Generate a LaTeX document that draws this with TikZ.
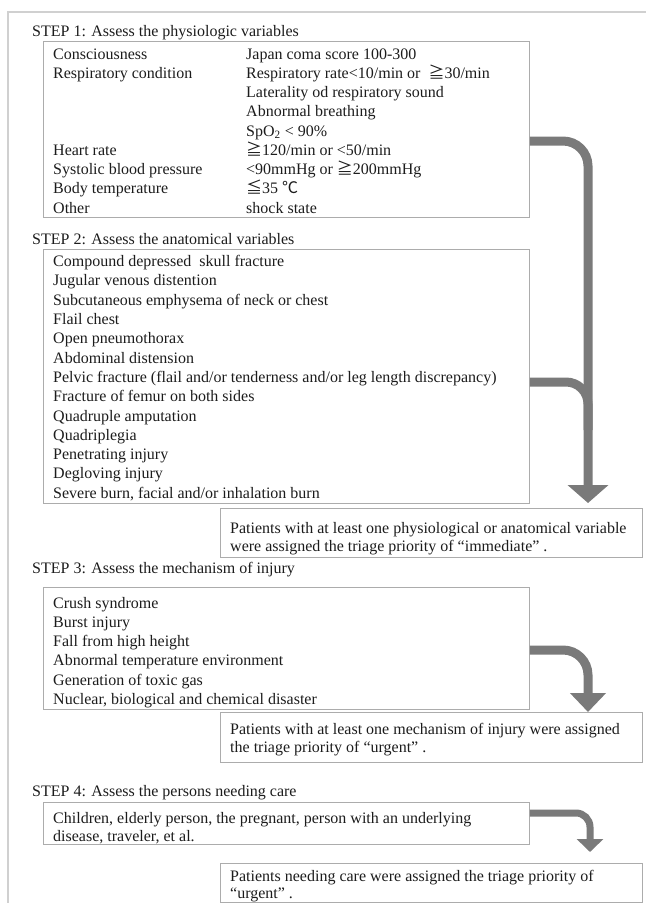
\documentclass[tikz,border=0pt]{standalone}
\usepackage{fontspec}
\setmainfont{Liberation Serif}
\newfontfamily\cjkfont{Noto Sans CJK JP}
\usetikzlibrary{arrows.meta}
\definecolor{boxgray}{RGB}{172,172,172}
\definecolor{arrowgray}{RGB}{122,122,122}
\definecolor{framegray}{RGB}{208,208,208}
\definecolor{inkcol}{RGB}{28,28,28}
\newcommand{\jge}{{\cjkfont ≧}}
\newcommand{\jle}{{\cjkfont ≦}}
\newcommand{\jdegc}{{\cjkfont ℃}}
\begin{document}
\begin{tikzpicture}[x=1pt,y=1pt,yscale=-1,
  every node/.style={inner sep=0pt,text=inkcol,font=\fontsize{16}{19}\selectfont},
  entry/.style={anchor=base west},
  listbox/.style={draw=boxgray,line width=0.9pt,anchor=north west,minimum width=486pt},
  resultbox/.style={draw=boxgray,line width=0.9pt,anchor=north west,minimum width=422pt},
  flowline/.style={draw=arrowgray,line width=9pt,rounded corners=25pt},
  flowarrow/.style={flowline,-{Triangle[width=40pt,length=18pt]}}]
\useasboundingbox (0,0) rectangle (646,903);
% outer frame
\draw [framegray,line width=1.5pt] (8,903) -- (8,12) -- (646,12);

% STEP 1
\node [entry] (title1) at (32,36) {STEP 1: Assess the physiologic variables};
\node [listbox,minimum height=176pt] (box1) at (43,41) {};
\foreach \lbl/\row in {Consciousness/0, Respiratory condition/1, Heart rate/5,
    Systolic blood pressure/6, Body temperature/7, Other/8}
  \node [entry] (lbl\row) at (53,59+\row*19.25) {\lbl};
\foreach \val [count=\i from 0] in {Japan coma score 100-300,
    Respiratory rate<10/min or \ \jge30/min,
    Laterality od respiratory sound,
    Abnormal breathing,
    SpO\textsubscript{2} < 90\%,
    \jge120/min or <50/min,
    <90mmHg or \jge200mmHg,
    \jle35 \jdegc,
    shock state}
  \node [entry] (val\i) at (246,59+\i*19.25) {\val};

% STEP 2
\node [entry] (title2) at (32,244) {STEP 2: Assess the anatomical variables};
\node [listbox,minimum height=254pt] (box2) at (43,249) {};
\foreach \item [count=\i from 0] in {Compound depressed\ \ skull fracture,
    Jugular venous distention,
    Subcutaneous emphysema of neck or chest,
    Flail chest,
    Open pneumothorax,
    Abdominal distension,
    Pelvic fracture (flail and/or tenderness and/or leg length discrepancy),
    Fracture of femur on both sides,
    Quadruple amputation,
    Quadriplegia,
    Penetrating injury,
    Degloving injury,
    {Severe burn, facial and/or inhalation burn}}
  \node [entry] (anat\i) at (53,266.6+\i*19.3) {\item};

\node [resultbox,minimum height=49pt] (res1) at (220,508) {};
\node [entry] (res1a) at (230,533) {Patients with at least one physiological or anatomical variable};
\node [entry] (res1b) at (230,551) {were assigned the triage priority of “immediate” .};

% STEP 3
\node [entry] (title3) at (32,573) {STEP 3: Assess the mechanism of injury};
\node [listbox,minimum height=122pt] (box3) at (43,587) {};
\foreach \item [count=\i from 0] in {Crush syndrome,
    Burst injury,
    Fall from high height,
    Abnormal temperature environment,
    Generation of toxic gas,
    {Nuclear, biological and chemical disaster}}
  \node [entry] (mech\i) at (53,608.3+\i*19.2) {\item};

\node [resultbox,minimum height=50pt] (res2) at (220,712) {};
\node [entry] (res2a) at (230,734) {Patients with at least one mechanism of injury were assigned};
\node [entry] (res2b) at (230,752) {the triage priority of “urgent” .};

% STEP 4
\node [entry] (title4) at (32,796) {STEP 4: Assess the persons needing care};
\node [listbox,minimum height=42pt] (box4) at (43,802) {};
\node [entry] (care1) at (53,823) {Children, elderly person, the pregnant, person with an underlying};
\node [entry] (care2) at (53,841) {disease, traveler, et al.};

\node [resultbox,minimum height=39pt] (res3) at (220,863) {};
\node [entry] (res3a) at (230,881) {Patients needing care were assigned the triage priority of};
\node [entry] (res3b) at (230,898) {“urgent” .};

% arrows
\draw [flowarrow,shorten >=5pt] (box1.east |- 0,141) -| (res1.north -| 588,0);
\draw [flowline,rounded corners=22pt] (box2.east |- 0,382) -| (588,430);
\draw [flowarrow,-{Triangle[width=35pt,length=19pt]}] (box3.east |- 0,650) -| (res2.north -| 588,0);
\draw [flowarrow,line width=7pt,rounded corners=14pt,shorten >=11pt,-{Triangle[width=26pt,length=13pt]}] (box4.east |- 0,813) -| (res3.north -| 590,0);
\end{tikzpicture}
\end{document}
